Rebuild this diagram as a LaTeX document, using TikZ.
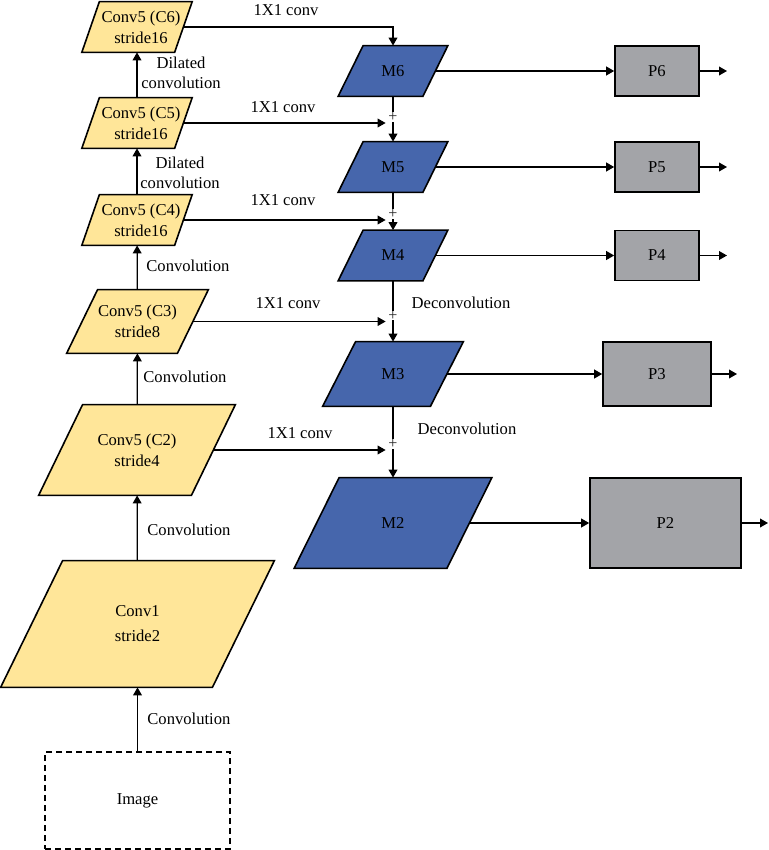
\documentclass[tikz,border=0pt]{standalone}
\usepackage{fontspec}
\setmainfont{Liberation Serif}
\usetikzlibrary{arrows.meta,backgrounds}
\definecolor{cyellow}{RGB}{255,230,153}
\definecolor{mblue}{RGB}{70,102,172}
\definecolor{pgray}{RGB}{163,164,168}
\tikzset{
	base/.style={inner sep=1pt, align=center, font=\fontsize{8.3}{10.5}\selectfont},
	cnode/.style={base, rectangle},
	pbox/.style={base, rectangle, draw, line width=0.8pt, fill=pgray},
	arr/.style={-{Triangle[length=4pt,width=4.4pt]}, line width=0.6pt},
	sum/.style={circle, minimum size=7pt, inner sep=0pt},
	plusmark/.style={font=\fontsize{8}{8}\selectfont, text=black!85, fill=white, inner sep=0.2pt},
	lbl/.style={font=\fontsize{8.3}{10}\selectfont, inner sep=0pt, align=center}
}
\begin{document}
\begin{tikzpicture}[x=0.5pt, y=-0.5pt]
		\useasboundingbox (0,0) rectangle (769,850);
		% backbone
		\node[cnode, minimum width=46pt, minimum height=25pt] (c6) at (137,27) {\hspace{4pt}Conv5 (C6)\\\hspace{4pt}stride16};
		\node[cnode, minimum width=46pt, minimum height=25pt] (c5) at (137,123) {\hspace{4pt}Conv5 (C5)\\\hspace{4pt}stride16};
		\node[cnode, minimum width=46pt, minimum height=25pt] (c4) at (137,220) {\hspace{4pt}Conv5 (C4)\\\hspace{4pt}stride16};
		\node[cnode, minimum width=55pt, minimum height=31.5pt] (c3) at (137.5,321.5) {Conv5 (C3)\\stride8};
		\node[cnode, minimum width=76pt, minimum height=45pt] (c2) at (137,450) {Conv5 (C2)\\stride4};
		\node[cnode, minimum width=105.5pt, minimum height=63pt, font=\fontsize{8.3}{12.5}\selectfont] (cv1) at (137.5,624) {Conv1\\stride2};
		\node[base, draw, line width=0.8pt, dash pattern=on 3pt off 2pt, minimum width=92.5pt, minimum height=48.5pt] (img) at (137.5,800.5) {Image};
		
		% top-down path
		\node[cnode, minimum width=42pt, minimum height=25pt] (m6) at (393,71) {M6};
		\node[cnode, minimum width=42pt, minimum height=25pt] (m5) at (393,167) {M5};
		\node[cnode, minimum width=42pt, minimum height=25pt] (m4) at (393,255.5) {M4};
		\node[cnode, minimum width=53.5pt, minimum height=32pt] (m3) at (393,374) {M3};
		\node[cnode, minimum width=76pt, minimum height=45pt] (m2) at (393,523) {M2};
		
		\node[pbox, minimum width=42pt, minimum height=25pt] (p6) at (657,71) {P6};
		\node[pbox, minimum width=42pt, minimum height=25pt] (p5) at (657,167) {P5};
		\node[pbox, minimum width=42pt, minimum height=25pt] (p4) at (657,255.5) {P4};
		\node[pbox, minimum width=54pt, minimum height=32pt] (p3) at (657,374) {P3};
		\node[pbox, minimum width=75.5pt, minimum height=45pt] (p2) at (665.5,523) {P2};
		
		% parallelograms behind the text
		\begin{scope}[on background layer]
			\foreach \n/\s/\c in {c6/4.4pt/cyellow, c5/4.4pt/cyellow, c4/4.4pt/cyellow, c3/7.75pt/cyellow, c2/11pt/cyellow, cv1/15.5pt/cyellow, m6/6.25pt/mblue, m5/6.25pt/mblue, m4/6.25pt/mblue, m3/8.25pt/mblue, m2/11.25pt/mblue}
				\draw[line width=0.8pt, fill=\c] ([xshift=\s]\n.north west) -- ([xshift=\s]\n.north east) -- ([xshift=-\s]\n.south east) -- ([xshift=-\s]\n.south west) -- cycle;
		\end{scope}
		
		\node[sum] (s5) at (393,123) {};
		\node[sum] (s4) at (393,220) {};
		\node[sum] (s3) at (393,321.5) {};
		\node[sum] (s2) at (393,450) {};
		
		\coordinate (o6) at (727,71);
		\coordinate (o5) at (727,167);
		\coordinate (o4) at (727,255.5);
		\coordinate (o3) at (737,374);
		\coordinate (o2) at (768,523);
		
		% bottom-up arrows
		\draw[arr] (img) -- (cv1);
		\draw[arr] (cv1) -- (c2);
		\draw[arr] (c2) -- (c3);
		\draw[arr] (c3) -- (c4);
		\draw[arr] (c4) -- (c5);
		\draw[arr] (c5) -- (c6);
		
		% lateral arrows
		\draw[arr] (c6) -| (m6);
		\draw[arr] (c5) -- (s5);
		\draw[arr] (c4) -- (s4);
		\draw[arr] (c3) -- (s3);
		\draw[arr] (c2) -- (s2);
		
		\draw[arr] (m6) -- (m5);
		\draw[arr] (m5) -- (m4);
		\draw[arr] (m4) -- (m3);
		\draw[arr] (m3) -- (m2);
		
		\draw[arr] (m6) -- (p6);
		\draw[arr] (m5) -- (p5);
		\draw[arr] (m4) -- (p4);
		\draw[arr] (m3) -- (p3);
		\draw[arr] (m2) -- (p2);
		
		\draw[arr] (p6) -- (o6);
		\draw[arr] (p5) -- (o5);
		\draw[arr] (p4) -- (o4);
		\draw[arr] (p3) -- (o3);
		\draw[arr] (p2) -- (o2);
		
		\node[plusmark] (a5) at ([yshift=3pt]s5) {+};
		\node[plusmark] (a4) at ([yshift=3pt]s4) {+};
		\node[plusmark] (a3) at ([yshift=3pt]s3) {+};
		\node[plusmark] (a2) at ([yshift=3pt]s2) {+};
		
		% labels
		\node[lbl] (l6) at (286,10) {1X1 conv};
		\node[lbl] (l5) at (283,107) {1X1 conv};
		\node[lbl] (l4) at (283,200) {1X1 conv};
		\node[lbl] (l3) at (288,303) {1X1 conv};
		\node[lbl] (l2) at (300,433) {1X1 conv};
		\node[lbl] (d6) at (181,73) {Dilated\\convolution};
		\node[lbl] (d5) at (180,173) {Dilated\\convolution};
		\node[lbl, anchor=west] (v4) at (146,266) {Convolution};
		\node[lbl, anchor=west] (v3) at (143,377) {Convolution};
		\node[lbl, anchor=west] (v2) at (147,530) {Convolution};
		\node[lbl, anchor=west] (v1) at (147,719) {Convolution};
		\node[lbl] (e3) at (461,303) {Deconvolution};
		\node[lbl] (e2) at (467,429) {Deconvolution};
		
		\end{tikzpicture}
\end{document}
